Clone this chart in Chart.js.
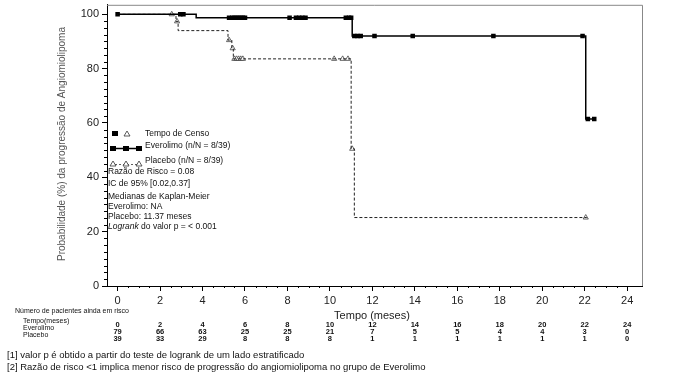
<!DOCTYPE html>
<html><head><meta charset="utf-8">
<script src="https://cdn.jsdelivr.net/npm/chart.js@4.4.1/dist/chart.umd.min.js"></script>
<style>html,body{margin:0;padding:0;background:#fff}#wrap{width:675px;height:381px;position:relative}</style>
</head><body><div id="wrap"><canvas id="c" width="675" height="381"></canvas></div>
<script>
// ---- data ----
const evTimes = [0, 3.7, 11.05, 22.05, 22.45];
const evSurv  = [100, 98.7, 92.0, 61.5, 61.5];
const plTimes = [0, 2.75, 2.85, 5.2, 5.38, 5.45, 11.0, 11.15, 22.1];
const plSurv  = [100, 97.4, 94.0, 90.5, 87.5, 83.6, 50.5, 25.2, 25.2];
const evCensorTimes = [0, 2.95, 3.1, 5.25, 5.4, 5.5, 5.6, 5.7, 5.8, 5.9, 6.0, 8.1, 8.4, 8.55, 8.7, 8.85, 10.75, 10.9, 11.0, 11.15, 11.3, 11.45, 12.1, 13.9, 17.7, 21.9, 22.15, 22.45];
const evCensorSurv  = [100, 100, 100, 98.7, 98.7, 98.7, 98.7, 98.7, 98.7, 98.7, 98.7, 98.7, 98.7, 98.7, 98.7, 98.7, 98.7, 98.7, 98.7, 92, 92, 92, 92, 92, 92, 92, 61.5, 61.5];
const plCensorTimes = [2.55, 2.8, 5.25, 5.42, 5.5, 5.6, 5.7, 5.8, 5.9, 10.2, 10.6, 10.85, 11.05, 22.05];
const plCensorSurv  = [100, 97.4, 90.5, 87.5, 83.6, 83.6, 83.6, 83.6, 83.6, 83.6, 83.6, 83.6, 50.5, 25.2];
const xTicks = [0, 2, 4, 6, 8, 10, 12, 14, 16, 18, 20, 22, 24];
const yTicks = [0, 20, 40, 60, 80, 100];
const riskTimes = [0, 2, 4, 6, 8, 10, 12, 14, 16, 18, 20, 22, 24];
const riskEverolimo = [79, 66, 63, 25, 25, 21, 7, 5, 5, 4, 4, 3, 0];
const riskPlacebo = [39, 33, 29, 8, 8, 8, 1, 1, 1, 1, 1, 1, 0];

const toPts = (xs, ys) => xs.map((x, i) => ({x: x, y: ys[i]}));
const F = '"Liberation Sans", Arial, sans-serif';
const FN = '"Liberation Sans Narrow", "Liberation Sans", Arial, sans-serif';

const extras = {
  id: 'extras',
  afterDraw(chart) {
    const ctx = chart.ctx, a = chart.chartArea;
    const xs = chart.scales.x, ys = chart.scales.y;
    ctx.save();
    // frame top/right
    ctx.strokeStyle = '#888'; ctx.lineWidth = 1;
    ctx.beginPath();
    ctx.moveTo(a.left, a.top + 0.5); ctx.lineTo(a.right + 0.5, a.top + 0.5); ctx.lineTo(a.right + 0.5, a.bottom);
    ctx.stroke();
    // minor ticks
    ctx.strokeStyle = '#000'; ctx.lineWidth = 1;
    ctx.beginPath();
    for (let v = 0; v <= 100; v += 2.5) {
      if (v % 20 === 0) continue;
      const y = Math.round(ys.getPixelForValue(v)) + 0.5;
      ctx.moveTo(a.left - 3, y); ctx.lineTo(a.left, y);
    }
    for (let v = 0; v <= 24; v += 0.5) {
      if (v % 2 === 0) continue;
      const x = Math.round(xs.getPixelForValue(v)) + 0.5;
      ctx.moveTo(x, a.bottom); ctx.lineTo(x, a.bottom + 2);
    }
    ctx.stroke();
    // y title
    ctx.fillStyle = '#555';
    ctx.font = '10px ' + F;
    ctx.textAlign = 'center'; ctx.textBaseline = 'middle';
    ctx.save(); ctx.translate(62, 144); ctx.rotate(-Math.PI / 2);
    ctx.fillText('Probabilidade (%) da progressão de Angiomiolipoma', 0, 0);
    ctx.restore();
    // x title
    ctx.fillStyle = '#222';
    ctx.font = '11px ' + F;
    ctx.fillText('Tempo (meses)', 372, 316);
    // legend block
    ctx.fillStyle = '#000';
    ctx.fillRect(112, 131, 6, 5);
    ctx.strokeStyle = '#333'; ctx.lineWidth = 0.8;
    ctx.beginPath(); ctx.moveTo(127, 131); ctx.lineTo(130, 136); ctx.lineTo(124, 136); ctx.closePath(); ctx.stroke();
    ctx.strokeStyle = '#000'; ctx.lineWidth = 1.5;
    ctx.beginPath(); ctx.moveTo(111, 148.5); ctx.lineTo(141, 148.5); ctx.stroke();
    [113, 126, 139].forEach(x => ctx.fillRect(x - 3, 146, 6, 5));
    ctx.lineWidth = 0.8; ctx.setLineDash([2, 2]); ctx.strokeStyle = '#333';
    ctx.beginPath(); ctx.moveTo(111, 164.5); ctx.lineTo(141, 164.5); ctx.stroke();
    ctx.setLineDash([]);
    [113, 126, 139].forEach(x => { ctx.beginPath(); ctx.moveTo(x, 161); ctx.lineTo(x + 3, 166); ctx.lineTo(x - 3, 166); ctx.closePath(); ctx.fillStyle = '#fff'; ctx.fill(); ctx.stroke(); });
    ctx.fillStyle = '#111';
    ctx.font = '8.5px ' + F; ctx.textAlign = 'left'; ctx.textBaseline = 'middle';
    ctx.fillText('Tempo de Censo', 145, 134);
    ctx.fillText('Everolimo (n/N = 8/39)', 145, 146);
    ctx.fillText('Placebo (n/N = 8/39)', 145, 161);
    ctx.fillText('Razão de Risco = 0.08', 108, 172);
    ctx.fillText('IC de 95% [0.02,0.37]', 108, 184);
    ctx.fillText('Medianas de Kaplan-Meier', 108, 197);
    ctx.fillText('Everolimo: NA', 108, 207);
    ctx.fillText('Placebo: 11.37 meses', 108, 217);
    ctx.font = 'italic 8.5px ' + F;
    ctx.fillText('Logrank', 108, 227);
    const lw = ctx.measureText('Logrank ').width;
    ctx.font = '8.5px ' + F;
    ctx.fillText('do valor p = < 0.001', 108 + lw, 227);
    // risk table
    ctx.font = '7px ' + F;
    ctx.fillText('Número de pacientes ainda em risco', 15, 311);
    ctx.fillText('Tempo(meses)', 23, 321);
    ctx.fillText('Everolimo', 23, 328);
    ctx.fillText('Placebo', 23, 335);
    ctx.textAlign = 'center';
    ctx.font = 'bold 7.5px ' + FN;
    riskTimes.forEach((t, i) => {
      const x = xs.getPixelForValue(t);
      ctx.fillText(String(t), x, 325);
      ctx.fillText(String(riskEverolimo[i]), x, 332);
      ctx.fillText(String(riskPlacebo[i]), x, 338.5);
    });
    // footnotes
    ctx.textAlign = 'left';
    ctx.font = '9.5px ' + F;
    ctx.fillStyle = '#111';
    ctx.fillText('[1] valor p é obtido a partir do teste de logrank de um lado estratificado', 7, 355);
    ctx.fillText('[2] Razão de risco <1 implica menor risco de progressão do angiomiolipoma no grupo de Everolimo', 7, 367);
    ctx.restore();
  }
};

new Chart(document.getElementById('c'), {
  type: 'line',
  data: {
    datasets: [
      { label: 'Everolimo', data: toPts(evTimes, evSurv), stepped: 'before', borderColor: '#000', borderWidth: 1.5, pointRadius: 0, fill: false },
      { label: 'Placebo', data: toPts(plTimes, plSurv), stepped: 'before', borderColor: '#222', borderWidth: 1, borderDash: [3, 2], pointRadius: 0, fill: false },
      { type: 'scatter', label: 'Censo Everolimo', data: toPts(evCensorTimes, evCensorSurv), pointStyle: 'rect', pointRadius: 3.2, backgroundColor: '#000', borderColor: '#000', borderWidth: 0, showLine: false },
      { type: 'scatter', label: 'Censo Placebo', data: toPts(plCensorTimes, plCensorSurv), pointStyle: 'triangle', pointRadius: 3, backgroundColor: '#fff', borderColor: '#444', borderWidth: 0.8, showLine: false }
    ]
  },
  options: {
    responsive: false, animation: false, events: [],
    layout: { padding: { top: 4, right: 33, left: 0, bottom: 0 } },
    plugins: { legend: { display: false }, tooltip: { enabled: false } },
    scales: {
      x: {
        type: 'linear', min: -0.5, max: 24.7,
        afterBuildTicks: s => { s.ticks = xTicks.map(v => ({value: v})); },
        afterFit: s => { s.height = 95; s.paddingLeft = 0; s.paddingRight = 0; },
        grid: { display: true, drawOnChartArea: false, drawTicks: true, tickLength: 5, color: '#000' },
        border: { display: true, color: '#000', width: 1 },
        ticks: { color: '#222', font: { family: F, size: 11 }, padding: 3, maxRotation: 0, autoSkip: false }
      },
      y: {
        type: 'linear', min: 0, max: 103.5,
        afterBuildTicks: s => { s.ticks = yTicks.map(v => ({value: v})); },
        afterFit: s => { s.width = 107; s.paddingTop = 0; s.paddingBottom = 0; },
        grid: { display: true, drawOnChartArea: false, drawTicks: true, tickLength: 5, color: '#000' },
        border: { display: true, color: '#000', width: 1 },
        ticks: { color: '#222', font: { family: F, size: 11 }, padding: 3 }
      }
    }
  },
  plugins: [extras]
});
</script></body></html>
